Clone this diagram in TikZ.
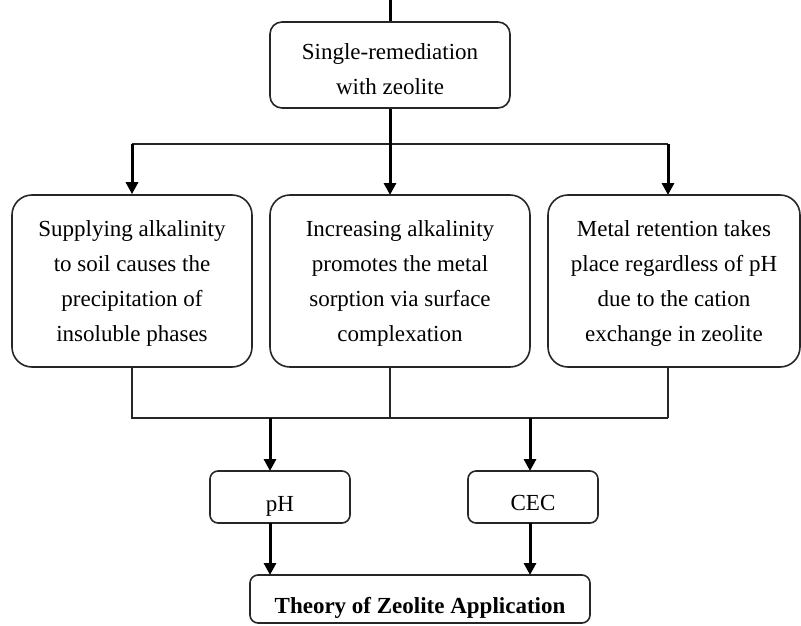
\documentclass[tikz,border=0pt]{standalone}
\usepackage{fontspec}
\setmainfont{Liberation Serif}
\usetikzlibrary{arrows.meta}
\newcommand\boxtext[2][0pt]{\raisebox{#1}[\height][\depth]{\begin{tabular}{@{}c@{}}#2\end{tabular}}}
\begin{document}
\begin{tikzpicture}[x=1pt,y=-1pt,
  box/.style={draw=black!85, line width=1.6pt, rounded corners=#1,
    inner sep=0pt, font=\fontsize{23}{35}\selectfont, text=black},
  box/.default=12pt,
  thinline/.style={draw=black!85, line width=1.6pt},
  thickline/.style={draw=black, line width=3pt},
  thickarrow/.style={draw=black, line width=3pt, -{Triangle[length=12pt,width=12pt]}}
]
\useasboundingbox (0,0) rectangle (801,626);

% top box
\node[box=12pt, minimum width=240pt, minimum height=86pt] (top) at (390,65)
  {\boxtext[-5.5pt]{Single-remediation\\with zeolite}};
\coordinate (topin) at (390,0);

% three middle boxes
\node[box=20pt, minimum width=240pt, minimum height=172pt] (left) at (132,281)
  {\boxtext[-1pt]{Supplying alkalinity\\to soil causes the\\precipitation of\\insoluble phases}};
\node[box=20pt, minimum width=260pt, minimum height=172pt] (mid) at (400,281)
  {\boxtext[-1pt]{Increasing alkalinity\\promotes the metal\\sorption via surface\\complexation}};
\node[box=20pt, minimum width=252pt, minimum height=172pt] (right) at (674,281)
  {\boxtext[-1pt]{Metal retention takes\\place regardless of pH\\due to the cation\\exchange in zeolite}};

% pH and CEC boxes
\node[box=8pt, minimum width=140pt, minimum height=52pt] (ph) at (280,497)
  {\boxtext[-7pt]{pH}};
\node[box=8pt, minimum width=130pt, minimum height=52pt] (cec) at (533,497)
  {\boxtext[-6pt]{CEC}};

% theory box
\node[box=8pt, minimum width=340pt, minimum height=48pt,
  font=\fontsize{23}{35}\selectfont\bfseries] (theory) at (420,599)
  {\boxtext[-7pt]{Theory of Zeolite Application}};

% distribution coordinates
\coordinate (sL) at (132,144);
\coordinate (sR) at (668,144);
\coordinate (jL) at (132,418);
\coordinate (jM) at (390,418);
\coordinate (jR) at (668,418);
\coordinate (jpH) at (270,418);
\coordinate (jCEC) at (530,418);

% top connectors
\draw[thickline] (topin) -- (top.north);
\draw[thinline] (sL) -- (sR);
\draw[thickarrow] (top.south) -- (390,195);
\draw[thickarrow] (sL) -- (left.north);
\draw[thickarrow] (sR) -- (668,195);

% bottom collection
\draw[thinline] (left.south) -- (jL) -- (jR);
\draw[thinline] (390,367) -- (jM);
\draw[thinline] (668,367) -- (jR);
\draw[thickarrow] (jpH) -- (270,471);
\draw[thickarrow] (jCEC) -- (530,471);

% to theory
\draw[thickarrow] (270,523) -- (270,575);
\draw[thickarrow] (530,523) -- (530,575);
\end{tikzpicture}
\end{document}
